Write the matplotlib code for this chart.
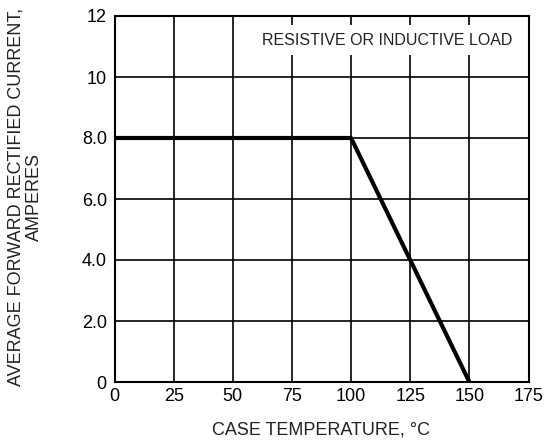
import matplotlib
matplotlib.use("Agg")
import matplotlib.pyplot as plt

temps = [0, 100, 150]
current = [8.0, 8.0, 0.0]
xticks = [0, 25, 50, 75, 100, 125, 150, 175]
yticks = [0, 2, 4, 6, 8, 10, 12]
ytick_labels = ["0", "2.0", "4.0", "6.0", "8.0", "10", "12"]

plt.rcParams['font.family'] = ['Liberation Sans', 'DejaVu Sans']

fig = plt.figure(figsize=(5.44, 4.44), dpi=100)
ax = fig.add_axes([114.5 / 544, 1 - 382 / 444, 414 / 544, 366 / 444])
ax.plot(temps, current, color='black', linewidth=3, solid_capstyle='butt', zorder=3)
ax.set_xlim(0, 175)
ax.set_ylim(0, 12)
ax.set_xticks(xticks)
ax.set_yticks(yticks)
ax.set_yticklabels(ytick_labels)
ax.grid(True, color='black', linewidth=1.2)
ax.tick_params(length=0, labelsize=13)
ax.tick_params(axis='y', pad=5.5)
ax.tick_params(axis='x', pad=4.5)
for s in ax.spines.values():
    s.set_linewidth(1.5)
fig.text(321 / 544, 1 - 429.5 / 444, "CASE TEMPERATURE, °C", fontsize=13,
         ha='center', va='center', color='#222222')
fig.text(25.6 / 544, 1 - 197 / 444, "AVERAGE FORWARD RECTIFIED CURRENT,\nAMPERES",
         fontsize=13, rotation=90, ha='center', va='center', multialignment='center',
         linespacing=1.1, color='#222222')
ax.text(0.962, 0.934, "RESISTIVE OR INDUCTIVE LOAD", transform=ax.transAxes,
        ha='right', va='center', fontsize=11.5, color='#222222', zorder=4,
        bbox=dict(facecolor='white', edgecolor='none', boxstyle='square,pad=0.45'))
fig.savefig("out.png", dpi=100)
